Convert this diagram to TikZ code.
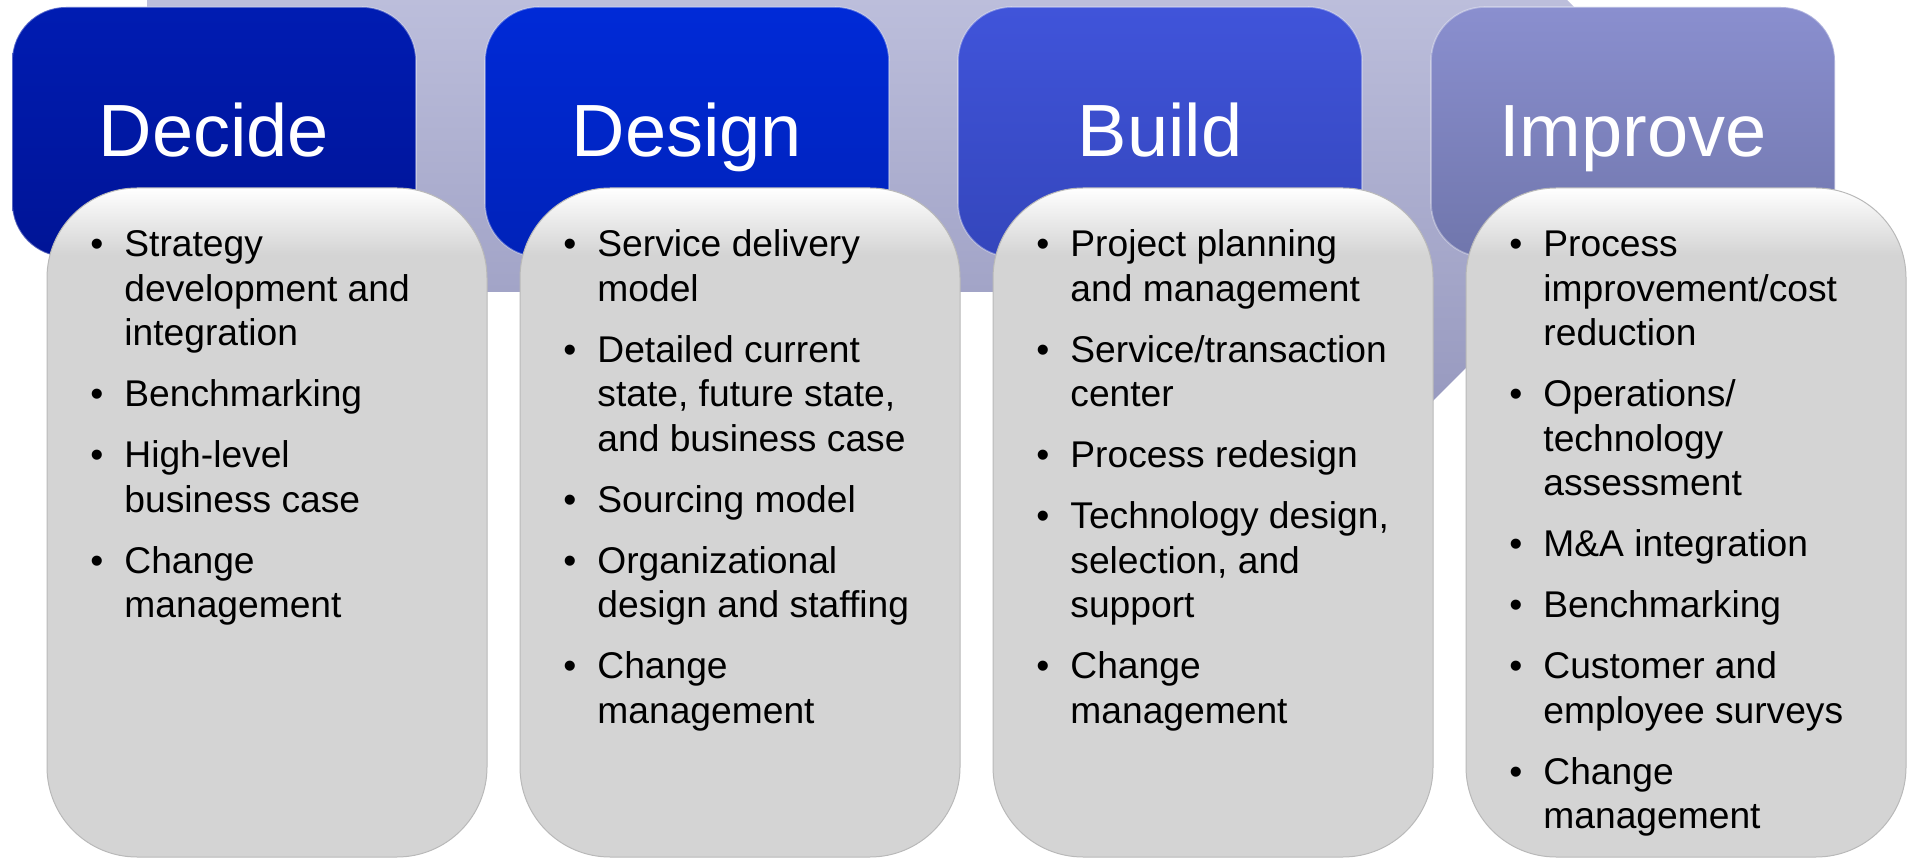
\documentclass[tikz,border=0pt]{standalone}
\usepackage{fontspec}
\setmainfont{Liberation Sans}

\definecolor{arrowtop}{RGB}{202,204,230}
\definecolor{arrowbot}{RGB}{150,152,190}
\definecolor{decidetop}{RGB}{0,28,178}
\definecolor{decidebot}{RGB}{0,20,150}
\definecolor{designtop}{RGB}{0,42,215}
\definecolor{designbot}{RGB}{0,34,185}
\definecolor{buildtop}{RGB}{64,84,218}
\definecolor{buildbot}{RGB}{52,70,188}
\definecolor{improvetop}{RGB}{138,143,207}
\definecolor{improvebot}{RGB}{112,118,172}
\definecolor{boxgray}{RGB}{212,212,212}
\definecolor{boxedge}{RGB}{185,185,185}

\pgfdeclareverticalshading{itemshade}{100bp}{color(0bp)=(boxgray); color(25bp)=(boxgray);
  color(70bp)=(boxgray); color(75bp)=(white); color(100bp)=(white)}

\begin{document}
\begin{tikzpicture}[x=0.5pt,y=-0.5pt,
  head/.style={rounded corners=27pt, minimum width=202pt, minimum height=125pt,
    text=white, font=\fontsize{37}{40}\selectfont, text height=26.5pt, text depth=1.5pt,
    draw=white, draw opacity=.35, line width=.8pt},
  itembox/.style={rounded corners=45pt, minimum width=220pt, minimum height=334.5pt,
    shade, shading=itemshade, draw=boxedge, line width=.5pt},
  items/.style={anchor=base west, inner sep=0pt, font=\fontsize{18.6}{22.25}\selectfont}]
\path[use as bounding box] (0,0) rectangle (1916,860);
\clip (0,0) rectangle (1916,860);

\shade[top color=arrowtop, bottom color=arrowbot] (147,-26) -- (1410,-26) -- (1410,-157)
  -- (1700,133) -- (1410,424) -- (1410,292) -- (147,292) -- cycle;

\node[head, top color=decidetop, bottom color=decidebot] (decide) at (214,132) {Decide};
\node[head, top color=designtop, bottom color=designbot] (design) at (687,132) {Design};
\node[head, top color=buildtop, bottom color=buildbot] (build) at (1160,132) {Build};
\node[head, top color=improvetop, bottom color=improvebot] (improve) at (1633,132) {Improve};

\node[itembox] (decidebox) at (267,522.5) {};
\node[itembox] (designbox) at (740,522.5) {};
\node[itembox] (buildbox) at (1213,522.5) {};
\node[itembox] (improvebox) at (1686,522.5) {};

\node[items] (decidelist) at (90,257) {\begin{tabular}[t]{@{}l@{\hspace{10.5pt}}l@{}}
\textbullet & Strategy\\ & development and\\ & integration\\[8.25pt]
\textbullet & Benchmarking\\[8.25pt]
\textbullet & High-level\\ & business case\\[8.25pt]
\textbullet & Change\\ & management
\end{tabular}};

\node[items] (designlist) at (563,257) {\begin{tabular}[t]{@{}l@{\hspace{10.5pt}}l@{}}
\textbullet & Service delivery\\ & model\\[8.25pt]
\textbullet & Detailed current\\ & state, future state,\\ & and business case\\[8.25pt]
\textbullet & Sourcing model\\[8.25pt]
\textbullet & Organizational\\ & design and staffing\\[8.25pt]
\textbullet & Change\\ & management
\end{tabular}};

\node[items] (buildlist) at (1036,257) {\begin{tabular}[t]{@{}l@{\hspace{10.5pt}}l@{}}
\textbullet & Project planning\\ & and management\\[8.25pt]
\textbullet & Service/transaction\\ & center\\[8.25pt]
\textbullet & Process redesign\\[8.25pt]
\textbullet & Technology design,\\ & selection, and\\ & support\\[8.25pt]
\textbullet & Change\\ & management
\end{tabular}};

\node[items] (improvelist) at (1509,257) {\begin{tabular}[t]{@{}l@{\hspace{10.5pt}}l@{}}
\textbullet & Process\\ & improvement/cost\\ & reduction\\[8.25pt]
\textbullet & Operations/\\ & technology\\ & assessment\\[8.25pt]
\textbullet & M\&A integration\\[8.25pt]
\textbullet & Benchmarking\\[8.25pt]
\textbullet & Customer and\\ & employee surveys\\[8.25pt]
\textbullet & Change\\ & management
\end{tabular}};
\end{tikzpicture}
\end{document}
